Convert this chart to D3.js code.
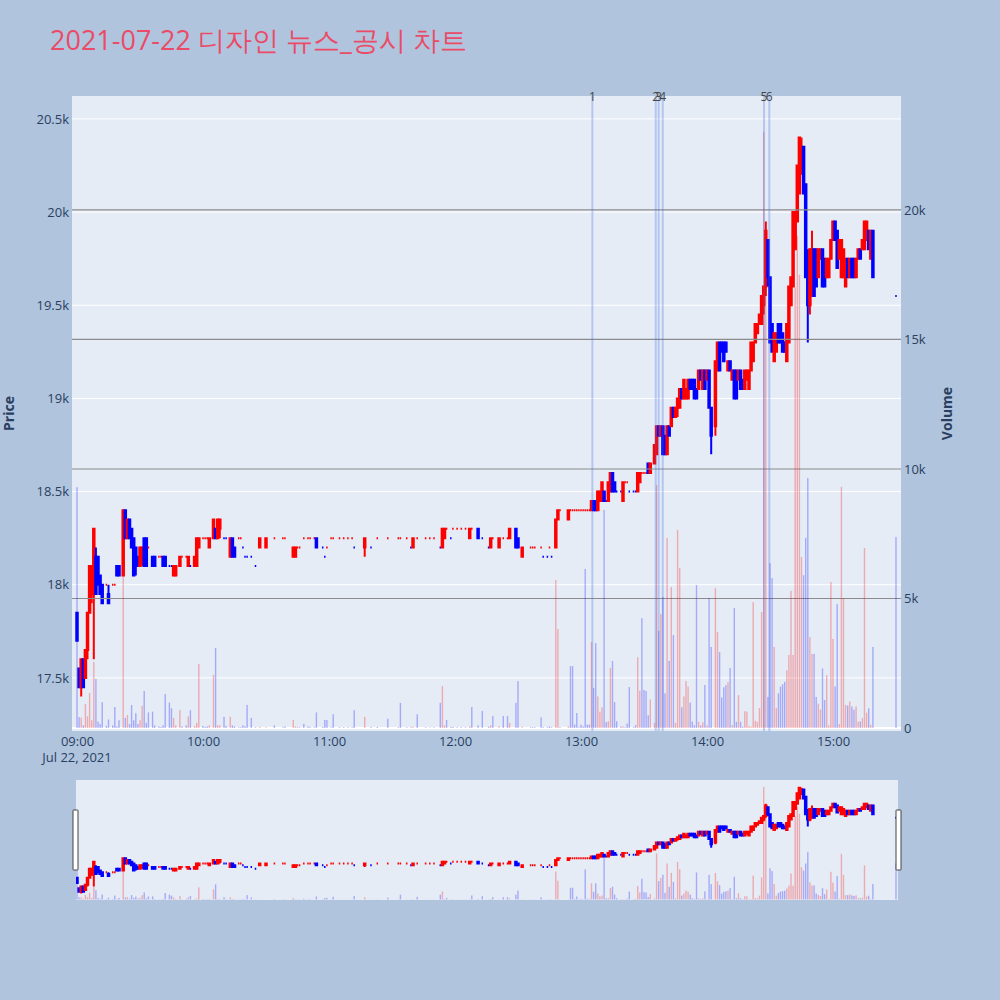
<!DOCTYPE html>
<html>
<head>
<meta charset="utf-8">
<script src="https://cdn.jsdelivr.net/npm/d3@7"></script>
<style>
  html, body { margin: 0; padding: 0; background: #b0c4de; }
  svg { display: block; font-family: "Open Sans", "DejaVu Sans", sans-serif; }
</style>
</head>
<body>
<svg id="chart" width="1000" height="1000"></svg>
<script>
const title = "2021-07-22 디자인 뉴스_공시 차트";
const day = "2021-07-22";

// one-minute candles (minutes without trades are absent)
const times = [
  "09:00","09:01","09:02","09:03","09:04","09:05","09:06","09:07","09:08","09:09","09:10","09:11","09:12","09:14","09:15","09:17","09:18","09:19","09:20","09:22","09:23","09:24","09:25","09:26","09:27","09:28","09:29","09:30","09:31","09:32","09:33","09:34","09:36","09:37","09:39","09:40","09:41","09:42","09:44","09:45","09:46","09:47","09:49","09:50","09:52","09:53","09:54","09:56","09:57","09:58",
  "10:00","10:01","10:02","10:03","10:05","10:06","10:07","10:08","10:10","10:11","10:13","10:14","10:15","10:17","10:18","10:19","10:20","10:21","10:23","10:25","10:27","10:30","10:34","10:38","10:39","10:43","10:44","10:45","10:46","10:48","10:50","10:51","10:53","10:54","10:57","10:58","10:59",
  "11:01","11:02","11:05","11:07","11:09","11:11","11:12","11:17","11:20","11:23","11:28","11:33","11:34","11:37","11:39","11:40","11:42","11:46","11:48","11:50","11:53","11:54","11:55","11:56","11:58","11:59",
  "12:01","12:03","12:05","12:07","12:08","12:11","12:13","12:16","12:17","12:18","12:21","12:23","12:25","12:26","12:29","12:30","12:32","12:36","12:37","12:38","12:41","12:42","12:44","12:45","12:46","12:48","12:49","12:50","12:54","12:55","12:56","12:57","12:58","12:59",
  "13:00","13:01","13:02","13:03","13:04","13:05","13:06","13:07","13:08","13:09","13:10","13:11","13:12","13:13","13:14","13:15","13:16","13:17","13:19","13:20","13:21","13:22","13:23","13:25","13:26","13:27","13:28","13:29","13:30","13:31","13:32","13:33","13:35","13:36","13:37","13:38","13:39","13:40","13:41","13:42","13:43","13:44","13:45","13:46","13:47","13:48","13:49","13:50","13:51","13:52","13:53","13:54","13:55","13:56","13:57","13:58","13:59",
  "14:00","14:01","14:02","14:04","14:05","14:06","14:07","14:08","14:09","14:10","14:11","14:12","14:13","14:14","14:15","14:16","14:17","14:18","14:19","14:20","14:21","14:22","14:23","14:24","14:25","14:26","14:27","14:28","14:29","14:30","14:31","14:32","14:33","14:34","14:35","14:36","14:37","14:38","14:39","14:40","14:41","14:42","14:43","14:44","14:45","14:46","14:47","14:48","14:49","14:50","14:51","14:52","14:53","14:54","14:55","14:56","14:57","14:58","14:59",
  "15:00","15:01","15:02","15:03","15:04","15:05","15:06","15:07","15:08","15:09","15:10","15:11","15:12","15:13","15:14","15:15","15:16","15:17","15:18","15:19","15:30"
];
const opens = [
  17850,17550,17450,17600,17500,17650,17850,17950,17950,18150,18150,18050,18000,18000,17950,18000,18000,18100,18100,18050,18400,18250,18350,18300,18250,18200,18150,18100,18150,18250,18250,18200,18150,18150,18150,18150,18150,18150,18100,18100,18050,18050,18100,18150,18150,18100,18100,18100,18100,18200,
  18250,18250,18250,18200,18250,18300,18250,18300,18250,18250,18150,18250,18200,18250,18250,18200,18150,18150,18150,18100,18200,18200,18250,18250,18250,18150,18150,18200,18200,18250,18250,18250,18250,18250,18200,18150,18200,
  18250,18250,18250,18250,18250,18250,18200,18200,18200,18250,18250,18250,18250,18250,18200,18200,18250,18250,18250,18250,18200,18200,18250,18300,18250,18300,
  18300,18300,18300,18250,18300,18300,18250,18200,18200,18250,18200,18250,18250,18250,18300,18250,18150,18200,18200,18200,18200,18150,18150,18200,18150,18200,18350,18400,18350,18400,18400,18400,18400,18400,
  18400,18400,18400,18400,18400,18400,18450,18450,18400,18450,18450,18500,18450,18450,18500,18600,18550,18500,18500,18450,18550,18550,18500,18500,18500,18500,18550,18600,18600,18600,18650,18600,18650,18700,18850,18800,18850,18800,18700,18850,18850,18950,18900,18950,18950,19050,19000,19000,19000,19100,19100,19100,19050,19050,19150,19050,19150,
  19100,19150,18950,18850,19150,19300,19300,19300,19300,19150,19200,19100,19150,19150,19100,19150,19100,19050,19100,19050,19150,19200,19300,19350,19400,19400,19500,19600,19850,19650,19400,19200,19250,19400,19400,19350,19300,19200,19300,19500,19600,19800,19950,20100,20250,20350,20150,19750,19500,19550,19800,19800,19650,19750,19800,19750,19650,19650,19750,
  19850,19950,19900,19750,19650,19650,19600,19750,19650,19750,19750,19650,19750,19800,19800,19800,19850,19900,19750,19900,19550
];
const highs = [
  17850,17550,17600,17600,17650,17850,18100,18100,18300,18200,18150,18050,18000,18000,18000,18000,18000,18100,18100,18400,18400,18350,18350,18300,18250,18200,18150,18200,18200,18250,18250,18200,18150,18150,18150,18150,18150,18150,18100,18100,18100,18100,18150,18150,18150,18150,18100,18150,18250,18250,
  18250,18250,18250,18250,18350,18300,18350,18350,18250,18250,18250,18250,18200,18250,18250,18200,18150,18150,18150,18100,18250,18250,18250,18250,18250,18200,18200,18200,18200,18250,18250,18250,18250,18250,18200,18150,18200,
  18250,18250,18250,18250,18250,18250,18200,18250,18200,18250,18250,18250,18250,18250,18200,18250,18250,18250,18250,18250,18200,18300,18300,18300,18250,18300,
  18300,18300,18300,18300,18300,18300,18250,18200,18250,18250,18250,18250,18250,18300,18300,18250,18200,18200,18200,18200,18200,18150,18150,18200,18150,18350,18400,18400,18400,18400,18400,18400,18400,18400,
  18400,18400,18400,18400,18400,18450,18450,18450,18500,18500,18550,18500,18450,18550,18600,18600,18550,18500,18500,18550,18550,18550,18500,18500,18500,18600,18600,18600,18600,18600,18650,18650,18750,18850,18850,18850,18850,18800,18850,18850,18950,18950,18950,19000,19050,19050,19100,19050,19100,19100,19100,19100,19050,19150,19150,19150,19150,
  19150,19150,18950,19200,19300,19300,19300,19300,19300,19200,19200,19150,19150,19150,19150,19150,19100,19150,19150,19150,19300,19300,19400,19400,19450,19550,19600,19950,19850,19650,19400,19350,19350,19400,19400,19350,19300,19400,19600,19650,20000,20000,20250,20400,20400,20350,20150,19800,19800,19900,19800,19800,19800,19800,19800,19750,19750,19750,19850,
  19950,19950,19900,19850,19850,19800,19750,19750,19750,19750,19750,19750,19800,19800,19850,19950,19950,19900,19900,19900,19550
];
const lows = [
  17700,17450,17400,17450,17500,17600,17850,17900,17600,17950,18000,17950,17900,18000,17900,18000,18000,18050,18050,18050,18250,18250,18250,18200,18050,18050,18100,18100,18100,18100,18100,18200,18100,18100,18150,18150,18100,18100,18100,18100,18050,18050,18100,18150,18150,18100,18100,18100,18100,18200,
  18250,18250,18250,18200,18250,18250,18250,18250,18250,18250,18150,18150,18150,18250,18250,18200,18150,18150,18150,18100,18200,18200,18250,18250,18250,18150,18150,18200,18200,18250,18250,18250,18250,18200,18200,18150,18200,
  18250,18250,18250,18250,18250,18250,18200,18150,18200,18250,18250,18250,18250,18250,18200,18200,18250,18250,18250,18250,18200,18200,18250,18300,18250,18300,
  18300,18300,18300,18250,18300,18250,18250,18200,18200,18250,18200,18250,18250,18250,18200,18200,18150,18200,18200,18200,18200,18150,18150,18200,18150,18200,18350,18400,18350,18400,18400,18400,18400,18400,
  18400,18400,18400,18400,18400,18400,18400,18400,18400,18450,18450,18450,18450,18450,18500,18500,18500,18500,18500,18450,18550,18550,18500,18500,18500,18500,18550,18600,18600,18600,18600,18600,18650,18700,18800,18800,18700,18700,18700,18800,18850,18900,18900,18900,18950,19000,19000,19000,19000,19050,19050,19000,19000,19050,19100,19050,19050,
  19100,18950,18700,18800,19150,19150,19250,19200,19250,19150,19150,19100,19000,19000,19100,19050,19050,19050,19100,19050,19150,19200,19300,19350,19400,19400,19450,19550,19600,19300,19250,19200,19250,19300,19300,19250,19250,19200,19300,19500,19600,19800,19950,20100,20200,20100,19650,19300,19450,19550,19550,19600,19650,19750,19600,19600,19650,19650,19750,
  19850,19850,19700,19750,19650,19650,19600,19650,19650,19650,19650,19650,19750,19750,19800,19800,19850,19800,19750,19650,19550
];
const closes = [
  17700,17450,17600,17450,17650,17850,18100,18100,18300,17950,18000,17950,17900,18000,17900,18000,18000,18050,18050,18400,18250,18350,18250,18200,18050,18100,18100,18200,18200,18100,18100,18200,18100,18100,18150,18150,18100,18100,18100,18100,18100,18100,18150,18150,18150,18150,18100,18150,18250,18250,
  18250,18250,18250,18250,18350,18250,18350,18350,18250,18250,18250,18150,18150,18250,18250,18200,18150,18150,18150,18100,18250,18250,18250,18250,18250,18200,18200,18200,18200,18250,18250,18250,18250,18200,18200,18150,18200,
  18250,18250,18250,18250,18250,18250,18200,18250,18200,18250,18250,18250,18250,18250,18200,18250,18250,18250,18250,18250,18200,18300,18300,18300,18250,18300,
  18300,18300,18300,18300,18300,18250,18250,18200,18250,18250,18250,18250,18250,18300,18200,18200,18200,18200,18200,18200,18200,18150,18150,18200,18150,18350,18400,18400,18400,18400,18400,18400,18400,18400,
  18400,18400,18400,18400,18400,18450,18400,18400,18500,18500,18550,18450,18450,18550,18600,18500,18500,18500,18500,18550,18550,18550,18500,18500,18500,18600,18600,18600,18600,18600,18600,18650,18750,18850,18800,18850,18700,18700,18850,18800,18950,18900,18950,19000,19050,19000,19100,19050,19100,19050,19050,19000,19000,19150,19100,19150,19050,
  19150,18950,18800,19200,19300,19150,19250,19200,19250,19200,19150,19150,19000,19000,19150,19050,19050,19150,19150,19150,19300,19300,19400,19400,19450,19550,19600,19900,19650,19300,19250,19350,19350,19300,19300,19250,19250,19400,19600,19650,20000,20000,20250,20400,20350,20100,19650,19500,19800,19800,19550,19600,19800,19800,19600,19600,19750,19750,19850,
  19950,19850,19700,19850,19850,19800,19750,19650,19750,19650,19650,19750,19800,19750,19850,19950,19950,19800,19900,19650,19550
];
const volumes = [
  9300,420,400,100,930,450,1350,300,2550,1890,250,150,1000,80,330,100,810,60,300,6100,390,500,150,890,300,570,150,300,860,1430,200,600,630,100,60,40,100,1310,980,760,390,100,690,60,100,450,690,80,200,2470,
  80,40,60,100,2050,3090,100,100,430,80,430,100,60,30,30,100,60,890,390,30,40,30,100,30,60,310,60,30,30,160,60,40,30,600,40,310,310,
  30,530,30,30,30,30,690,430,40,40,360,30,970,30,30,50,530,30,20,30,970,1620,100,310,40,40,
  30,30,30,60,810,100,660,50,100,460,60,460,460,200,970,1810,50,30,30,30,410,30,30,60,30,5710,3820,30,60,2390,2390,130,580,30,
  130,60,6140,130,130,3320,1550,3280,1220,630,800,8420,230,260,2320,2590,1000,260,60,60,30,170,1580,30,110,2730,1440,4240,1470,1430,490,1100,200,9380,3750,4400,5060,1340,7340,2590,5440,3590,200,7650,6180,800,1220,1810,1600,980,250,100,5520,240,100,220,1660,
  100,5020,3130,5400,3710,2930,1180,1570,1650,1770,2320,110,4630,240,1270,240,50,650,630,70,50,4860,280,240,770,4480,23000,19300,1200,6360,5790,3130,770,1340,1600,1690,1780,2230,2820,5290,2820,17000,19000,17500,6600,5900,7340,9650,3510,2860,2860,1200,940,710,2300,1080,2040,100,5640,
  3440,1600,4790,150,9310,5020,890,870,1020,830,710,830,250,250,380,6950,590,760,120,3130,7380
];

// news / disclosure markers
const newsTimes = ["13:05:25", "13:35:35", "13:37:00", "13:38:55", "14:27:10", "14:29:40"];
const newsLabels = ["1", "2", "3", "4", "5", "6"];

const priceTicks = [17500, 18000, 18500, 19000, 19500, 20000, 20500];
const volumeTicks = [0, 5000, 10000, 15000, 20000];
const hourTicks = ["09:00", "10:00", "11:00", "12:00", "13:00", "14:00", "15:00"];

const n = times.length;
[opens, highs, lows, closes, volumes].forEach((a, i) => {
  if (a.length !== n) throw new Error("array " + i + " has " + a.length + " items, expected " + n);
});

const parse = d3.timeParse("%Y-%m-%d %H:%M:%S");
const toDate = s => parse(`${day} ${s.length === 5 ? s + ":00" : s}`);

const up = "#ff0000", down = "#0000ff";
const textColor = "#2a3f5f";

// direction like plotly: flat candles keep/derive direction from previous close
let prevClose = null, inc = true;
const candles = times.map((tm, i) => {
  const d = { t: toDate(tm), o: opens[i], h: highs[i], l: lows[i], c: closes[i], v: volumes[i] };
  if (d.c === d.o) {
    if (prevClose !== null && d.c !== prevClose) inc = d.c > prevClose;
  } else inc = d.c > d.o;
  d.inc = inc;
  prevClose = d.c;
  return d;
});

const plot = { left: 72, right: 901, top: 96, bottom: 731 };
const slider = { left: 76, right: 898, top: 780, bottom: 900 };

const x = d3.scaleTime()
  .domain([toDate("08:57:37"), toDate("15:32:23")])
  .range([plot.left, plot.right]);
const yPrice = d3.scaleLinear().domain([17215, 20623]).range([plot.bottom, plot.top]);
const yVol = d3.scaleLinear().domain([-116, 24400]).range([plot.bottom, plot.top]);
const yPriceS = yPrice.copy().range([slider.bottom, slider.top]);
const yVolS = yVol.copy().range([slider.bottom, slider.top]);

const svg = d3.select("#chart");
const defs = svg.append("defs");
defs.append("clipPath").attr("id", "clipMain").append("rect")
  .attr("x", plot.left).attr("y", plot.top)
  .attr("width", plot.right - plot.left).attr("height", plot.bottom - plot.top);
defs.append("clipPath").attr("id", "clipSlider").append("rect")
  .attr("x", slider.left).attr("y", slider.top)
  .attr("width", slider.right - slider.left).attr("height", slider.bottom - slider.top);

svg.append("rect").attr("width", 1000).attr("height", 1000).attr("fill", "#b0c4de");

svg.append("text")
  .attr("x", 50).attr("y", 50)
  .attr("font-size", 27)
  .attr("fill", "#ea4c68")
  .text(title);

svg.append("rect")
  .attr("x", plot.left).attr("y", plot.top)
  .attr("width", plot.right - plot.left).attr("height", plot.bottom - plot.top)
  .attr("fill", "#e5ecf6");

// price grid
svg.append("g").selectAll("line").data(priceTicks).join("line")
  .attr("x1", plot.left).attr("x2", plot.right)
  .attr("y1", d => yPrice(d)).attr("y2", d => yPrice(d))
  .attr("stroke", "#fff").attr("stroke-width", 1);

const hw = 0.75;
function drawCandles(g, y) {
  g.selectAll("path").data(candles).join("path")
    .attr("d", d => {
      const cx = x(d.t);
      const yo = y(d.o), yc = y(d.c);
      const top = Math.min(yo, yc), bot = Math.max(yo, yc);
      return `M${cx - hw},${bot}V${top}H${cx + hw}V${bot}Z` +
        `M${cx},${top}V${y(d.h)}M${cx},${bot}V${y(d.l)}`;
    })
    .attr("fill", d => d.inc ? up : down)
    .attr("stroke", d => d.inc ? up : down)
    .attr("stroke-width", 2);
}

function drawVolume(g, y, bw) {
  g.selectAll("rect").data(candles).join("rect")
    .attr("x", d => x(d.t) - bw / 2)
    .attr("width", bw)
    .attr("y", d => y(d.v))
    .attr("height", d => y(0) - y(d.v))
    .attr("fill", d => d.c > d.o ? up : down)
    .attr("fill-opacity", 0.28);
}

const main = svg.append("g").attr("clip-path", "url(#clipMain)");
drawCandles(main.append("g"), yPrice);

// volume grid (overlay axis) and zero line
main.append("g").selectAll("line").data(volumeTicks.filter(v => v > 0)).join("line")
  .attr("x1", plot.left).attr("x2", plot.right)
  .attr("y1", d => yVol(d)).attr("y2", d => yVol(d))
  .attr("stroke", "#8c8c8c").attr("stroke-width", 1.2);
main.append("line")
  .attr("x1", plot.left).attr("x2", plot.right)
  .attr("y1", yVol(0)).attr("y2", yVol(0))
  .attr("stroke", "#fff").attr("stroke-width", 2);

drawVolume(main.append("g"), yVol, 1.4);

// news markers
main.append("g").selectAll("line").data(newsTimes).join("line")
  .attr("x1", d => x(toDate(d))).attr("x2", d => x(toDate(d)))
  .attr("y1", plot.top).attr("y2", plot.bottom)
  .attr("stroke", "royalblue").attr("stroke-opacity", 0.3).attr("stroke-width", 2);
svg.append("g").selectAll("text").data(newsTimes).join("text")
  .attr("x", d => x(toDate(d))).attr("y", 100.5)
  .attr("text-anchor", "middle")
  .attr("font-size", 12).attr("fill", "#444")
  .text((d, i) => newsLabels[i]);

// axes
const fontSize = 13;
const axisLeft = svg.append("g")
  .attr("transform", `translate(${plot.left},0)`)
  .call(d3.axisLeft(yPrice).tickValues(priceTicks).tickFormat(d3.format("~s")).tickSize(0).tickPadding(3));
const axisRight = svg.append("g")
  .attr("transform", `translate(${plot.right},0)`)
  .call(d3.axisRight(yVol).tickValues(volumeTicks).tickFormat(d3.format("~s")).tickSize(0).tickPadding(3));
const axisBottom = svg.append("g")
  .attr("transform", `translate(0,${plot.bottom})`)
  .call(d3.axisBottom(x).tickValues(hourTicks.map(toDate)).tickFormat(d3.timeFormat("%H:%M")).tickSize(0).tickPadding(6));
[axisLeft, axisRight, axisBottom].forEach(a => {
  a.select(".domain").remove();
  a.selectAll("text").attr("font-size", fontSize).attr("fill", textColor)
    .attr("font-family", '"Open Sans", "DejaVu Sans", sans-serif');
});
svg.append("text")
  .attr("x", x(toDate(hourTicks[0]))).attr("y", 762)
  .attr("text-anchor", "middle").attr("font-size", fontSize).attr("fill", textColor)
  .text(d3.timeFormat("%b %-d, %Y")(toDate(hourTicks[0])));

svg.append("text")
  .attr("transform", `translate(14,${(plot.top + plot.bottom) / 2}) rotate(-90)`)
  .attr("text-anchor", "middle").attr("font-size", 14).attr("font-weight", "bold")
  .attr("fill", textColor).text("Price");
svg.append("text")
  .attr("transform", `translate(952,${(plot.top + plot.bottom) / 2}) rotate(-90)`)
  .attr("text-anchor", "middle").attr("font-size", 14).attr("font-weight", "bold")
  .attr("fill", textColor).text("Volume");

// range slider
svg.append("rect")
  .attr("x", slider.left).attr("y", slider.top)
  .attr("width", slider.right - slider.left).attr("height", slider.bottom - slider.top)
  .attr("fill", "#e5ecf6");
const rs = svg.append("g").attr("clip-path", "url(#clipSlider)");
drawCandles(rs.append("g"), yPriceS);
drawVolume(rs.append("g"), yVolS, 1.4);
[slider.left - 0.5, slider.right + 0.5].forEach(cx => {
  svg.append("rect")
    .attr("x", cx - 2.5).attr("y", 810).attr("width", 5).attr("height", 60)
    .attr("fill", "#fff").attr("stroke", "#444").attr("stroke-width", 1)
    .attr("rx", 0.5);
});
</script>
</body>
</html>
